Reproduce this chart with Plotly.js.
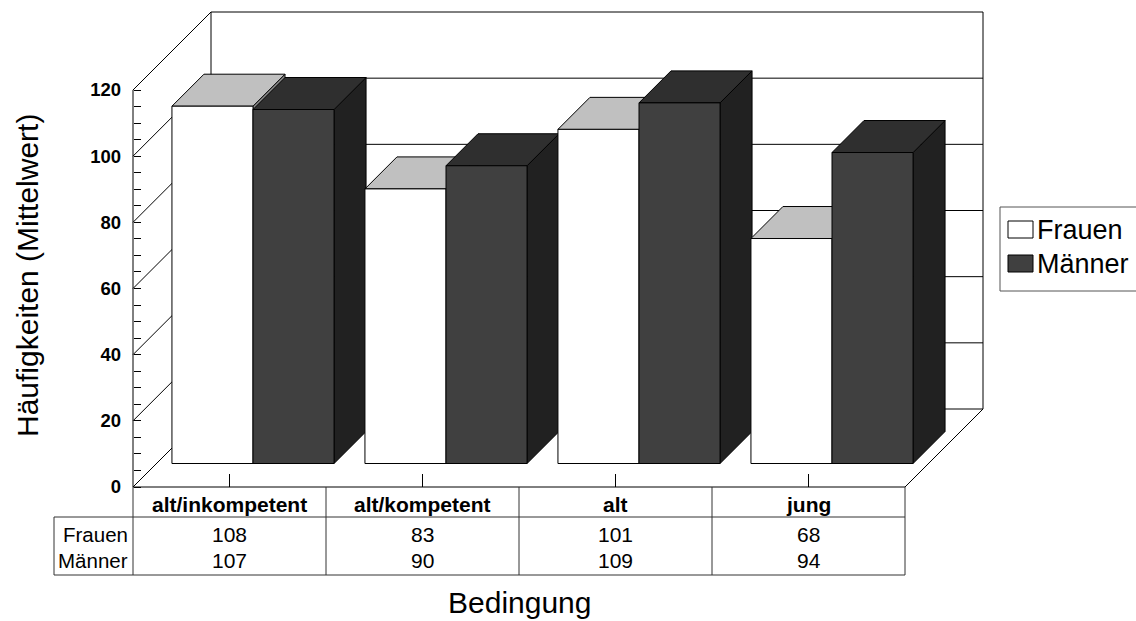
<!DOCTYPE html>
<html><head><meta charset="utf-8">
<script src="https://cdn.plot.ly/plotly-3.0.1.min.js"></script>
<style>html,body{margin:0;padding:0;background:#fff}#chart{width:1136px;height:621px}</style>
</head><body><div id="chart"></div>
<script>
// ---------- data ----------
const categories = ['alt/inkompetent', 'alt/kompetent', 'alt', 'jung'];
const seriesNames = ['Frauen', 'Männer'];
const frauen = [108, 83, 101, 68];
const maenner = [107, 90, 109, 94];
const yTickVals = [0, 20, 40, 60, 80, 100, 120];
const yTickText = ['0', '20', '40', '60', '80', '100', '120'];
const xTitle = 'Bedingung';
const yTitle = 'Häufigkeiten (Mittelwert)';

// ---------- geometry (pixels of the page) ----------
const FONT = 'Arial, "Liberation Sans", Helvetica, sans-serif';
const W = 1136, H = 621;
const L = 123, R = 993, T = 4, B = 495;          // plot area
const X0PX = 133, CATPX = 193, Y0PX = 487, UNITPX = 397 / 120;
const DEPTHPX = 78;
const DX = DEPTHPX / CATPX, DY = DEPTHPX / UNITPX;
const DF = 23.5 / 78, DB = 55.5 / 78, BW = 0.42;
const YMIN = yTickVals[0], YMAX = yTickVals[yTickVals.length - 1];
const XL = -0.5, XR = categories.length - 0.5;
const xr = [(L - X0PX) / CATPX - 0.5, (R - X0PX) / CATPX - 0.5];
const yr = [(Y0PX - B) / UNITPX, (Y0PX - T) / UNITPX];
function P(x, v, d) { return [x + d * DX, v + d * DY]; }
function pxX(px) { return (px - L) / (R - L); }
function pxY(py) { return (B - py) / (B - T); }

const traces = [];
// walls, floor, gridlines
const lx = [], ly = [];
function seg(a, b) { lx.push(a[0], b[0], null); ly.push(a[1], b[1], null); }
yTickVals.forEach(v => { seg(P(XL, v, 0), P(XL, v, 1)); seg(P(XL, v, 1), P(XR, v, 1)); });
seg(P(XL, YMIN, 1), P(XL, YMAX, 1));
seg(P(XR, YMIN, 1), P(XR, YMAX, 1));
seg(P(XL, YMIN, 0), P(XR, YMIN, 0));
seg(P(XR, YMIN, 0), P(XR, YMIN, 1));
seg(P(XL, YMIN, 0), P(XL, YMAX, 0));
const TICKV = 13 / UNITPX;
categories.forEach((c, i) => seg(P(i, 0, 0), P(i, TICKV, 0)));
traces.push({type: 'scatter', mode: 'lines', x: lx, y: ly, line: {color: '#000', width: 1},
  hoverinfo: 'skip', showlegend: false});

// bars
const series = [
  {name: seriesNames[0], values: frauen, colors: {front: '#ffffff', top: '#c0c0c0', side: '#8c8c8c'}},
  {name: seriesNames[1], values: maenner, colors: {front: '#404040', top: '#2f2f2f', side: '#212121'}}
];
function poly(pts, fill, name) {
  const x = pts.map(p => p[0]), y = pts.map(p => p[1]);
  x.push(x[0]); y.push(y[0]);
  return {type: 'scatter', mode: 'lines', x, y, fill: 'toself', fillcolor: fill,
    line: {color: '#000', width: 1}, hoverinfo: 'skip', showlegend: false, name};
}
categories.forEach((c, i) => {
  series.forEach((s, k) => {
    const x0 = i - BW + k * BW, x1 = x0 + BW, v = s.values[i];
    traces.push(poly([P(x1, 0, DF), P(x1, 0, DB), P(x1, v, DB), P(x1, v, DF)], s.colors.side, s.name));
    traces.push(poly([P(x0, v, DF), P(x1, v, DF), P(x1, v, DB), P(x0, v, DB)], s.colors.top, s.name));
    traces.push(poly([P(x0, 0, DF), P(x1, 0, DF), P(x1, v, DF), P(x0, v, DF)], s.colors.front, s.name));
  });
});

// minor ticks every 5
const minorVals = [];
for (let i = 0; i < yTickVals.length - 1; i++) {
  for (let m = yTickVals[i] + 5; m < yTickVals[i + 1]; m += 5) minorVals.push(m);
}

// ---------- table, legend, titles ----------
const shapes = [], annotations = [];
const TB = {top: 487, hdr: 517, bot: 575, left: 54};
const TLC = '#333';
function hline(y, x0, x1) { shapes.push({type: 'line', xref: 'paper', yref: 'paper', x0: pxX(x0), x1: pxX(x1), y0: pxY(y), y1: pxY(y), line: {color: TLC, width: 1}}); }
function vline(x, y0, y1) { shapes.push({type: 'line', xref: 'paper', yref: 'paper', x0: pxX(x), x1: pxX(x), y0: pxY(y0), y1: pxY(y1), line: {color: TLC, width: 1}}); }
const colRight = X0PX + categories.length * CATPX;
hline(TB.hdr, TB.left, colRight);
hline(TB.bot, TB.left, colRight);
vline(TB.left, TB.hdr, TB.bot);
for (let k = 0; k <= categories.length; k++) vline(X0PX + k * CATPX, TB.top, TB.bot);

const rowY = [534.5, 560.5];
categories.forEach((c, i) => {
  annotations.push({x: i, xref: 'x', y: pxY(504.5), yref: 'paper', text: c, showarrow: false,
    xanchor: 'center', yanchor: 'middle', font: {family: FONT, size: 21, color: '#000', weight: 'bold'}});
  series.forEach((s, k) => {
    annotations.push({x: i, xref: 'x', y: pxY(rowY[k]), yref: 'paper', text: String(s.values[i]), showarrow: false,
      xanchor: 'center', yanchor: 'middle', font: {family: FONT, size: 21, color: '#000'}});
  });
});
series.forEach((s, k) => {
  annotations.push({x: pxX(130), xref: 'paper', y: pxY(rowY[k]), yref: 'paper', text: s.name, showarrow: false,
    xanchor: 'right', yanchor: 'middle', font: {family: FONT, size: 20.5, color: '#000'}});
});

// legend (manual)
shapes.push({type: 'rect', xref: 'paper', yref: 'paper', x0: pxX(1000), x1: pxX(1150), y0: pxY(207), y1: pxY(291),
  line: {color: '#555', width: 1}, fillcolor: 'rgba(0,0,0,0)'});
const legY = [229.5, 263.5];
series.forEach((s, k) => {
  shapes.push({type: 'rect', xref: 'paper', yref: 'paper', x0: pxX(1008), x1: pxX(1033),
    y0: pxY(legY[k] - 8.5), y1: pxY(legY[k] + 8.5), line: {color: '#000', width: 1}, fillcolor: s.colors.front});
  annotations.push({x: pxX(1035), xref: 'paper', y: pxY(legY[k]), yref: 'paper', text: s.name, showarrow: false,
    xanchor: 'left', yanchor: 'middle', font: {family: FONT, size: 27, color: '#000'}});
});

// axis titles
annotations.push({x: (categories.length - 1) / 2, xref: 'x', y: pxY(602), yref: 'paper', text: xTitle, showarrow: false,
  xanchor: 'center', yanchor: 'middle', font: {family: FONT, size: 30, color: '#000'}});
annotations.push({x: pxX(27), xref: 'paper', y: pxY(276), yref: 'paper', text: yTitle, showarrow: false, textangle: -90,
  xanchor: 'center', yanchor: 'middle', font: {family: FONT, size: 30, color: '#000'}});

const layout = {
  width: W, height: H,
  margin: {l: L, r: W - R, t: T, b: H - B, pad: 0},
  paper_bgcolor: '#fff', plot_bgcolor: '#fff',
  showlegend: false,
  xaxis: {range: xr, visible: false, fixedrange: true},
  yaxis: {range: yr, anchor: 'free', position: pxX(X0PX), tickmode: 'array', tickvals: yTickVals, ticktext: yTickText,
    ticks: 'inside', ticklen: 7, tickwidth: 1, tickcolor: '#000', showline: false, showgrid: false, zeroline: false,
    ticklabelstandoff: 12, tickfont: {family: FONT, size: 18.5, color: '#000', weight: 'bold'},
    minor: {tickmode: 'array', tickvals: minorVals, ticks: 'inside', ticklen: 7, tickwidth: 1, tickcolor: '#000', showgrid: false},
    fixedrange: true},
  shapes, annotations
};
Plotly.newPlot('chart', traces, layout, {staticPlot: true, displayModeBar: false});
</script></body></html>
